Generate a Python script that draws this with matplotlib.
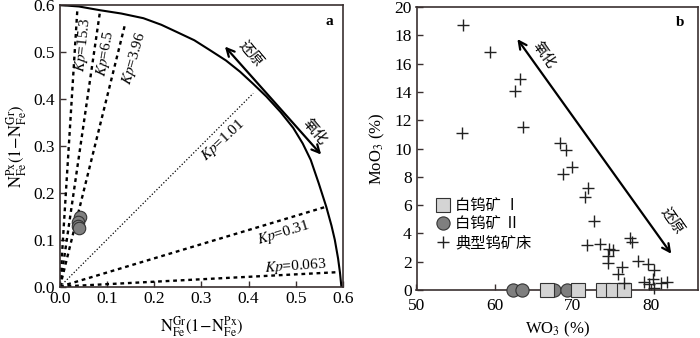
import numpy as np
import matplotlib.pyplot as plt

plt.rcParams['font.family'] = ['Liberation Serif', 'Noto Sans CJK SC']
plt.rcParams['mathtext.fontset'] = 'stix'
plt.rcParams['font.size'] = 11

# ---------------- a: 石榴子石-辉石 ----------------
curve_x = [0.0, 0.04, 0.085, 0.13, 0.177, 0.215, 0.247, 0.285, 0.318, 0.352, 0.382, 0.41,
           0.438, 0.468, 0.495, 0.515, 0.532, 0.549, 0.565, 0.576, 0.583, 0.590, 0.594, 0.597]
curve_y = [0.6, 0.597, 0.589, 0.582, 0.572, 0.558, 0.543, 0.525, 0.504, 0.482, 0.458, 0.432,
           0.405, 0.372, 0.338, 0.305, 0.27, 0.22, 0.17, 0.13, 0.10, 0.06, 0.03, 0.0]

kp_names = ['15.3', '6.5', '3.96', '1.01', '0.31', '0.063']
kp_xend = [0.037, 0.085, 0.138, 0.41, 0.567, 0.593]
kp_yend = [0.593, 0.587, 0.559, 0.412, 0.171, 0.031]
# 标注位置 (x, y, 角度)
kp_lab_x = [0.050, 0.096, 0.158, 0.347, 0.475, 0.50]
kp_lab_y = [0.515, 0.497, 0.487, 0.312, 0.115, 0.044]
kp_lab_rot = [84, 80, 74, 43, 17, 4]

a_x = [0.042, 0.039, 0.038, 0.040]
a_y = [0.148, 0.138, 0.130, 0.125]

# ---------------- b: WO3-MoO3 ----------------
typ_wo3 = [55.9, 59.4, 63.2, 62.6, 63.6, 55.8, 68.3, 69.1, 69.9, 68.7, 71.9, 71.5, 72.7,
           71.8, 73.5, 74.6, 75.2, 74.5, 74.5, 77.3, 77.6, 76.3, 75.8, 76.5, 78.4, 79.6,
           80.4, 80.3, 79.1, 79.8, 80.4, 81.3, 82.1]
typ_moo3 = [18.7, 16.8, 14.9, 14.1, 11.5, 11.1, 10.4, 9.9, 8.7, 8.2, 7.2, 6.6, 4.9,
            3.2, 3.25, 2.9, 2.8, 2.4, 1.9, 3.7, 3.4, 1.6, 1.1, 0.5, 2.07, 1.84,
            1.4, 0.8, 0.59, 0.42, 0.12, 0.52, 0.59]
sch1_wo3 = [66.7, 70.7, 73.8, 75.1, 76.6]
sch1_moo3 = [0, 0, 0, 0, 0]
sch2_wo3 = [62.4, 63.5, 67.6, 69.3]
sch2_moo3 = [0, 0, 0, 0]

fig = plt.figure(figsize=(7, 3.38), dpi=100)
ax1 = fig.add_axes([0.0857, 0.152, 0.404, 0.833])
ax2 = fig.add_axes([0.595, 0.142, 0.402, 0.837])

edge = '#3a3030'
for ax in (ax1, ax2):
    for s in ax.spines.values():
        s.set_color(edge)
        s.set_linewidth(1.2)
    ax.tick_params(direction='in', length=4, width=1, color=edge, top=False, right=False,
                   labelsize=12.5)

# ---- a ----
ax1.plot(curve_x, curve_y, color='black', lw=1.5, solid_joinstyle='round')
for i in range(len(kp_names)):
    if kp_names[i] == '1.01':
        ls, lw = (0, (1, 1.6)), 0.9
    else:
        ls, lw = (0, (1.6, 1.6)), 1.7
    ax1.plot([0, kp_xend[i]], [0, kp_yend[i]], color='black', lw=lw, linestyle=ls)
    ax1.text(kp_lab_x[i], kp_lab_y[i], '$Kp$=' + kp_names[i], rotation=kp_lab_rot[i],
             ha='center', va='center', fontsize=11, rotation_mode='anchor')

ax1.plot(a_x, a_y, 'o', ms=9, mfc='#7f7f7f', mec='#333333', mew=0.8, zorder=5)

ax1.annotate('', xy=(0.346, 0.516), xytext=(0.558, 0.277),
             arrowprops=dict(arrowstyle='<->', lw=1.6, color='black', mutation_scale=14))
ax1.text(0.405, 0.497, '还原', rotation=-50, ha='center', va='center', fontsize=10.5,
         family=['Noto Sans CJK SC'])
ax1.text(0.54, 0.33, '氧化', rotation=-50, ha='center', va='center', fontsize=10.5,
         family=['Noto Sans CJK SC'])
ax1.text(0.572, 0.566, 'a', fontweight='bold', ha='center', va='center', fontsize=11)

ax1.set_xlim(0, 0.6)
ax1.set_ylim(0, 0.6)
ax1.set_xticks(np.arange(0, 0.61, 0.1))
ax1.set_yticks(np.arange(0, 0.61, 0.1))
ax1.xaxis.set_major_formatter(plt.FormatStrFormatter('%.1f'))
ax1.yaxis.set_major_formatter(plt.FormatStrFormatter('%.1f'))
ax1.set_xlabel(r'$\mathrm{N_{Fe}^{Gr}(1\!-\!N_{Fe}^{Px})}$', fontsize=12, labelpad=5)
ax1.set_ylabel(r'$\mathrm{N_{Fe}^{Px}(1\!-\!N_{Fe}^{Gr})}$', fontsize=12, labelpad=3)

# ---- b ----
ax2.plot(sch2_wo3, sch2_moo3, 'o', ms=9.5, mfc='#7f7f7f', mec='#333333', mew=0.8,
         clip_on=False, zorder=4, label='白钨矿 Ⅱ')
ax2.plot(sch1_wo3, sch1_moo3, 's', ms=9.5, mfc='#d4d4d4', mec='#333333', mew=0.8,
         clip_on=False, zorder=5, label='白钨矿 Ⅰ')
ax2.plot(typ_wo3, typ_moo3, '+', ms=9, mew=1.0, color='#222222', clip_on=False,
         zorder=6, label='典型钨矿床')

ax2.annotate('', xy=(62.7, 17.9), xytext=(82.8, 2.4),
             arrowprops=dict(arrowstyle='<->', lw=1.6, color='black', mutation_scale=14))
ax2.text(66.3, 16.6, '氧化', rotation=-55, ha='center', va='center', fontsize=10.5,
         family=['Noto Sans CJK SC'])
ax2.text(82.7, 4.9, '还原', rotation=-55, ha='center', va='center', fontsize=10.5,
         family=['Noto Sans CJK SC'])
ax2.text(83.7, 18.9, 'b', fontweight='bold', ha='center', va='center', fontsize=11)

h, l = ax2.get_legend_handles_labels()
ax2.legend([h[1], h[0], h[2]], [l[1], l[0], l[2]], loc='lower left',
           bbox_to_anchor=(0.03, 0.12), frameon=False, handletextpad=0.1,
           handlelength=1.5, labelspacing=0.25, borderaxespad=0,
           prop={'family': ['Liberation Serif', 'Noto Sans CJK SC'], 'size': 11})

ax2.set_xlim(50, 86)
ax2.set_ylim(0, 20)
ax2.set_xticks([50, 60, 70, 80])
ax2.set_yticks(np.arange(0, 21, 2))
ax2.tick_params(axis='x', pad=6)
ax2.set_xlabel(r'WO$_3$ (%)', fontsize=12, labelpad=4)
ax2.set_ylabel(r'MoO$_3$ (%)', fontsize=12, labelpad=5)

fig.savefig('out.png', dpi=100)
